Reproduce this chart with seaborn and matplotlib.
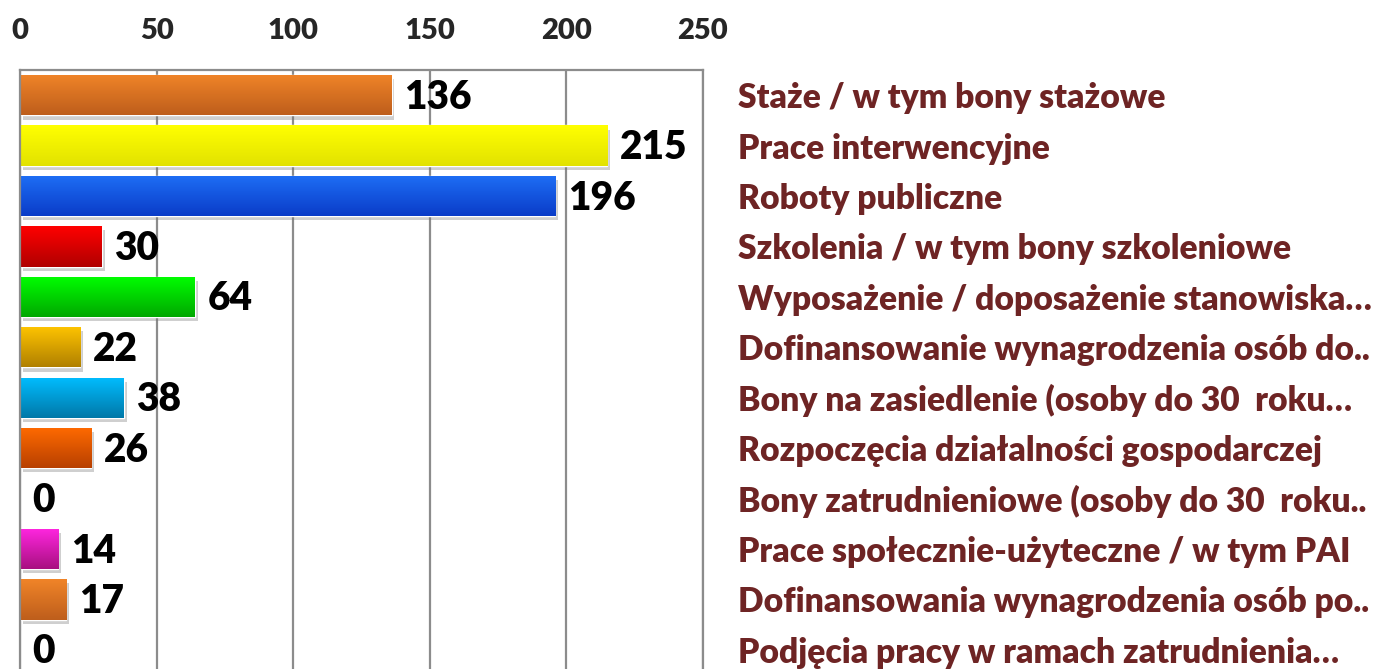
import matplotlib
matplotlib.use("Agg")
import matplotlib.pyplot as plt
import matplotlib.patheffects as pe
import numpy as np
import pandas as pd
import seaborn as sns
from matplotlib.colors import to_rgb

categories = [
    "Staże / w tym bony stażowe",
    "Prace interwencyjne",
    "Roboty publiczne",
    "Szkolenia / w tym bony szkoleniowe",
    "Wyposażenie / doposażenie stanowiska…",
    "Dofinansowanie wynagrodzenia osób do..",
    "Bony na zasiedlenie (osoby do 30  roku…",
    "Rozpoczęcia działalności gospodarczej",
    "Bony zatrudnieniowe (osoby do 30  roku..",
    "Prace społecznie-użyteczne / w tym PAI",
    "Dofinansowania wynagrodzenia osób po..",
    "Podjęcia pracy w ramach zatrudnienia…",
]
values = [136, 215, 196, 30, 64, 22, 38, 26, 0, 14, 17, 0]
top_colors = ["#F08428", "#FFFF00", "#1E6EF5", "#FF0000", "#00FF00", "#FFC400",
              "#00BDFF", "#FF6A00", "#888888", "#FF26E0", "#F08428", "#888888"]
bottom_colors = ["#BE5E1C", "#E2E200", "#0A3CC8", "#B00000", "#00A800", "#B08000",
                 "#0078A8", "#B84000", "#555555", "#A81080", "#BE5E1C", "#555555"]
x_ticks = [0, 50, 100, 150, 200, 250]

df = pd.DataFrame({"category": categories, "value": values})

sns.set_theme(style="white")
plt.rcParams["font.family"] = ["Lato", "DejaVu Sans"]

W, H = 1389, 669
fig = plt.figure(figsize=(W / 100, H / 100), dpi=100)
ax = fig.add_axes([20 / W, (H - 675) / H, 683 / W, 605 / H])

sns.barplot(data=df, x="value", y="category", hue="category", palette=top_colors,
            legend=False, orient="h", width=0.8, ax=ax)

ax.set_xlim(0, 250)
ax.set_xticks(x_ticks)
ax.xaxis.tick_top()
ax.yaxis.tick_right()
ax.tick_params(axis="x", length=0, pad=19, labelsize=21)
ax.tick_params(axis="y", length=0, pad=25, labelsize=24.2, labelcolor="#6E2424")
for lbl in ax.get_xticklabels():
    lbl.set_fontweight("heavy")
for lbl in ax.get_yticklabels():
    lbl.set_fontweight("heavy")
ax.set_xlabel("")
ax.set_ylabel("")
ax.grid(axis="x", color="#8C8C8C", linewidth=1.6)
ax.set_axisbelow(True)
for side in ["top", "left", "right"]:
    ax.spines[side].set_color("#8C8C8C")
    ax.spines[side].set_linewidth(1.6)
ax.spines["bottom"].set_visible(False)

# gradient fill + soft shadow on each bar
grad = np.linspace(0, 1, 64)[:, None]
for patch, c_top, c_bot in zip(ax.patches, top_colors, bottom_colors):
    patch.set_path_effects([
        pe.SimplePatchShadow(offset=(2, -3), shadow_rgbFace="#777777", alpha=0.35),
        pe.Normal(),
    ])
    x0, y0 = patch.get_x(), patch.get_y()
    w, h = patch.get_width(), patch.get_height()
    if w <= 0:
        continue
    t, b = np.array(to_rgb(c_top)), np.array(to_rgb(c_bot))
    img = t[None, None, :] * (1 - grad[:, :, None]) + b[None, None, :] * grad[:, :, None]
    im = ax.imshow(img, extent=(x0, x0 + w, y0 + h, y0), aspect="auto",
                   interpolation="bicubic", zorder=patch.get_zorder() + 0.1)
    im.set_clip_path(patch)

ax.set_xlim(0, 250)
ax.set_ylim(len(categories) - 0.5, -0.5)

for container in ax.containers:
    texts = ax.bar_label(container, fmt="%d", padding=9, fontsize=28, fontweight="heavy",
                         color="black")
    for t in texts:
        x, y = t.get_position()
        t.set_position((x, y - 1.5))

fig.savefig("out.png", dpi=100)
